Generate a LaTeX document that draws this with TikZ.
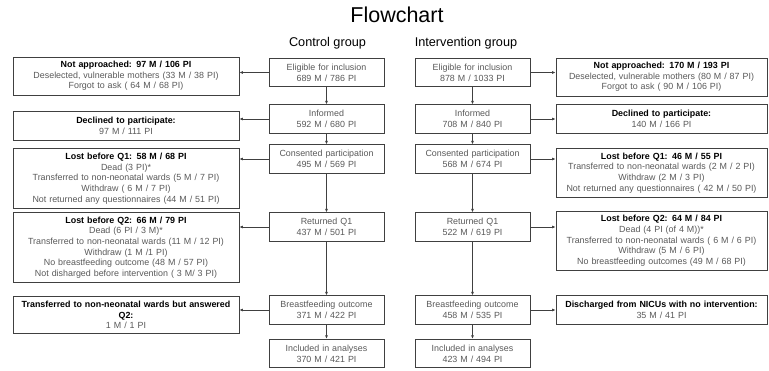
\documentclass[tikz,border=0pt]{standalone}
\usepackage{fontspec}
\setmainfont{Liberation Sans}
\usetikzlibrary{arrows.meta}
\definecolor{boxgray}{RGB}{89,89,89}
\definecolor{linegray}{RGB}{64,64,64}
\newcommand{\headtxt}[1]{{\color{black}\bfseries #1}}
\begin{document}
\begin{tikzpicture}[x=1pt,y=-1pt,
        box/.style={draw=linegray,line width=0.8pt,align=center,text=boxgray,inner xsep=3pt,inner ysep=4.2pt,minimum height=28.5pt,font=\fontsize{8.9}{10.7}\selectfont},
        midbox/.style={box,text width=109pt},
        leftbox/.style={box,text width=220pt},
        rightbox/.style={box,text width=205pt},
        arr/.style={draw=linegray,line width=0.7pt,-{Latex[length=3.5pt,width=3pt]}}]
        \useasboundingbox (0,0) rectangle (769,371);
        \node (title) at (397,15) {\fontsize{21.5}{24}\selectfont Flowchart};
        \node (ctrl) at (327.5,43) {\fontsize{12.7}{15}\selectfont Control group};
        \node (intv) at (466,43) {\fontsize{12.7}{15}\selectfont Intervention group};
        % control group
        \node[midbox] (elC) at (326.5,72.5) {Eligible for inclusion\\ 689 M / 786 PI};
        \node[midbox] (infC) at (326.5,119) {Informed\\ 592 M / 680 PI};
        \node[midbox] (conC) at (326.5,159) {Consented participation\\ 495 M / 569 PI};
        \node[midbox] (retC) at (326.5,227) {Returned Q1\\ 437 M / 501 PI};
        \node[midbox] (bfC) at (326.5,310) {Breastfeeding outcome\\ 371 M / 422 PI};
        \node[midbox] (incC) at (326.5,353.5) {Included in analyses\\ 370 M / 421 PI};
        % intervention group
        \node[midbox] (elI) at (472.5,72.5) {Eligible for inclusion\\ 878 M / 1033 PI};
        \node[midbox] (infI) at (472.5,119) {Informed\\ 708 M / 840 PI};
        \node[midbox] (conI) at (472.5,159) {Consented participation\\ 568 M / 674 PI};
        \node[midbox] (retI) at (472.5,227) {Returned Q1\\ 522 M / 619 PI};
        \node[midbox] (bfI) at (472.5,310) {Breastfeeding outcome\\ 458 M / 535 PI};
        \node[midbox] (incI) at (472.5,353.5) {Included in analyses\\ 423 M / 494 PI};
        % drop-outs, control
        \node[leftbox] (naL) at (126,76) {\headtxt{Not approached: 97 M / 106 PI}\\ Deselected, vulnerable mothers (33 M / 38 PI)\\ Forgot to ask ( 64 M / 68 PI)};
        \node[leftbox] (decL) at (126,126) {\headtxt{Declined to participate:}\\ 97 M / 111 PI};
        \node[leftbox] (lqaL) at (126,178.5) {\headtxt{Lost before Q1: 58 M / 68 PI}\\ Dead (3 PI)*\\ Transferred to non-neonatal wards (5 M / 7 PI)\\ Withdraw ( 6 M / 7 PI)\\ Not returned any questionnaires (44 M / 51 PI)};
        \node[leftbox] (lqbL) at (126,247.5) {\headtxt{Lost before Q2: 66 M / 79 PI}\\ Dead (6 PI / 3 M)*\\ Transferred to non-neonatal wards (11 M / 12 PI)\\ Withdraw (1 M /1 PI)\\ No breastfeeding outcome (48 M / 57 PI)\\ Not disharged before intervention ( 3 M/ 3 PI)};
        \node[leftbox] (trL) at (126,315) {\headtxt{Transferred to non-neonatal wards but answered}\\ \headtxt{Q2:}\\ 1 M / 1 PI};
        % drop-outs, intervention
        \node[rightbox] (naR) at (661.5,77) {\headtxt{Not approached: 170 M / 193 PI}\\ Deselected, vulnerable mothers (80 M / 87 PI)\\ Forgot to ask ( 90 M / 106 PI)};
        \node[rightbox] (decR) at (661.5,119) {\headtxt{Declined to participate:}\\ 140 M / 166 PI};
        \node[rightbox] (lqaR) at (661.5,173) {\headtxt{Lost before Q1: 46 M / 55 PI}\\ Transferred to non-neonatal wards (2 M / 2 PI)\\ Withdraw (2 M / 3 PI)\\ Not returned any questionnaires ( 42 M / 50 PI)};
        \node[rightbox] (lqbR) at (661.5,241) {\headtxt{Lost before Q2: 64 M / 84 PI}\\ Dead (4 PI (of 4 M))*\\ Transferred to non-neonatal wards ( 6 M / 6 PI)\\ Withdraw (5 M / 6 PI)\\ No breastfeeding outcomes (49 M / 68 PI)};
        \node[rightbox] (disR) at (661.5,310) {\headtxt{Discharged from NICUs with no intervention:}\\ 35 M / 41 PI};
        % main flow
        \draw[arr] (elC) -- (infC);
        \draw[arr] (infC) -- (conC);
        \draw[arr] (conC) -- (retC);
        \draw[arr] (retC) -- (bfC);
        \draw[arr] (bfC) -- (incC);
        \draw[arr] (elI) -- (infI);
        \draw[arr] (infI) -- (conI);
        \draw[arr] (conI) -- (retI);
        \draw[arr] (retI) -- (bfI);
        \draw[arr] (bfI) -- (incI);
        % side arrows
        \draw[arr] (elC.west) -- (elC.west -| naL.east);
        \draw[arr] (infC.west) -- (infC.west -| decL.east);
        \draw[arr] (conC.west) -- (conC.west -| lqaL.east);
        \draw[arr] (retC.west) -- (retC.west -| lqbL.east);
        \draw[arr] (bfC.west) -- (bfC.west -| trL.east);
        \draw[arr] (elI.east) -- (elI.east -| naR.west);
        \draw[arr] (infI.east) -- (infI.east -| decR.west);
        \draw[arr] (conI.east) -- (conI.east -| lqaR.west);
        \draw[arr] (retI.east) -- (retI.east -| lqbR.west);
        \draw[arr] (bfI.east) -- (bfI.east -| disR.west);
\end{tikzpicture}
\end{document}
